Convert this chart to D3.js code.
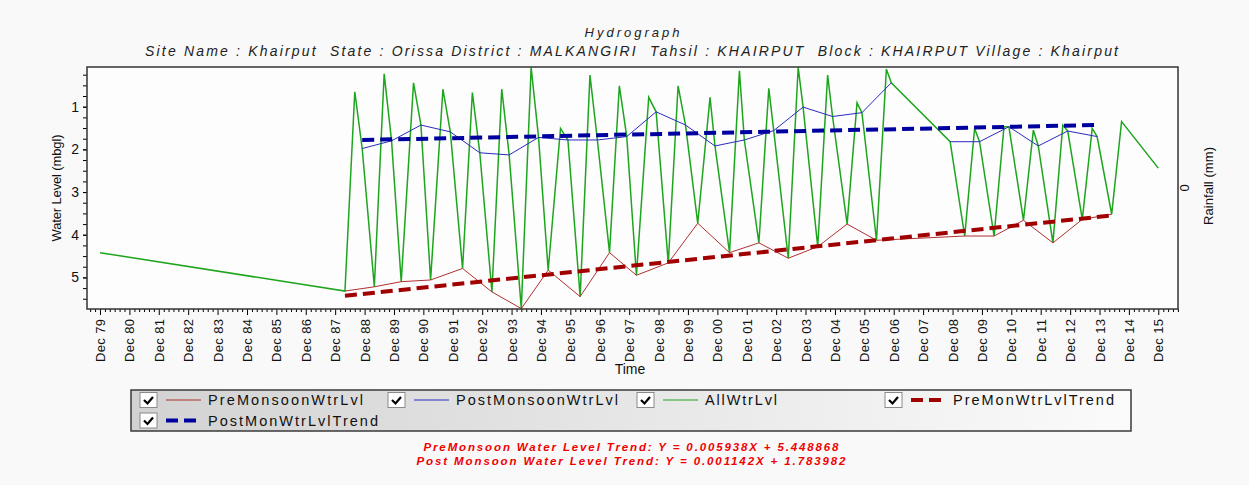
<!DOCTYPE html>
<html>
<head>
<meta charset="utf-8">
<script src="https://cdn.jsdelivr.net/npm/d3@7"></script>
<style>
  body { margin: 0; background: #f9f9f9; }
  text { font-family: "Liberation Sans", Arial, sans-serif; }
</style>
</head>
<body>
<div class="container"></div>
<script>

var allDates = ['1979-12','1988-04','1988-08','1988-11','1989-04','1989-08','1989-11','1990-03','1990-08','1990-11',
                '1991-03','1991-08','1991-11','1992-04','1992-08','1992-11','1993-04','1993-08','1993-11',
                '1994-04','1994-08','1994-11','1995-03','1995-08','1995-11','1996-04','1996-08','1996-11',
                '1997-04','1997-08','1997-11','1998-03','1998-08','1998-11','1999-04','1999-08','1999-11',
                '2000-04','2000-09','2000-11','2001-05','2001-09','2001-11','2002-05','2002-09','2002-11',
                '2003-05','2003-09','2003-11','2004-05','2004-09','2004-11','2005-05','2005-09','2005-11',
                '2006-05','2006-09','2006-11','2008-11','2009-05','2009-09','2009-11','2010-05','2010-09','2010-11',
                '2011-05','2011-09','2011-11','2012-05','2012-09','2012-11','2013-05','2013-09','2013-11',
                '2014-05','2014-09','2015-12'];
var allVals = [4.42,5.32,0.65,1.98,5.22,0.23,1.80,5.10,0.44,1.43,
               5.06,0.59,1.59,4.79,0.67,2.08,5.34,0.59,2.13,
               5.73,0.08,1.72,4.83,1.51,1.78,5.45,0.26,1.78,
               4.42,0.51,1.70,4.95,0.78,1.12,4.66,0.51,1.43,
               3.73,0.78,1.92,4.42,0.16,1.78,4.19,0.57,1.56,
               4.55,0.08,1.01,4.28,0.26,1.23,3.75,0.91,1.14,
               4.13,0.12,0.44,1.82,4.03,1.51,1.82,4.03,1.47,1.47,
               3.66,1.55,1.92,4.19,1.43,1.57,3.64,1.51,1.70,
               3.52,1.35,2.44];

var preDates = ['1988-04','1989-04','1990-03','1991-03','1992-04','1993-04','1994-04','1995-03','1996-04',
                '1997-04','1998-03','1999-04','2000-04','2001-05','2002-05','2003-05','2004-05','2005-05',
                '2006-05','2009-05','2010-05','2011-05','2012-05','2013-05','2014-05'];
var preVals = [5.32,5.22,5.10,5.06,4.79,5.34,5.73,4.83,5.45,
               4.42,4.95,4.66,3.73,4.42,4.19,4.55,4.28,3.75,
               4.13,4.03,4.03,3.66,4.19,3.64,3.52];

var postDates = ['1988-11','1989-11','1990-11','1991-11','1992-11','1993-11','1994-11','1995-11','1996-11',
                 '1997-11','1998-11','1999-11','2000-11','2001-11','2002-11','2003-11','2004-11','2005-11',
                 '2006-11','2007-11','2008-11','2009-11','2010-11','2011-11','2012-11','2013-11'];
var postVals = [1.98,1.80,1.43,1.59,2.08,2.13,1.72,1.78,1.78,
                1.70,1.12,1.43,1.92,1.78,1.56,1.01,1.23,1.14,
                0.44,null,1.82,1.82,1.47,1.92,1.57,1.70];

var preTrendDates = ['1988-04','2014-05'];
var preTrendVals = [5.43,3.55];
var postTrendDates = ['1988-11','2013-11'];
var postTrendVals = [1.78,1.43];

var yTickVals = [1,2,3,4,5];
var seriesNames = ['PreMonsoonWtrLvl','PostMonsoonWtrLvl','AllWtrLvl','PreMonWtrLvlTrend','PostMonWtrLvlTrend'];

var titleText = 'Hydrograph';
var subTitleText = 'Site Name : Khairput  State : Orissa District : MALKANGIRI  Tahsil : KHAIRPUT  Block : KHAIRPUT Village : Khairput';
var eqTexts = ['PreMonsoon Water Level Trend: Y = 0.005938X + 5.448868',
               'Post Monsoon Water Level Trend: Y = 0.001142X + 1.783982'];

// ---- setup ----
var parseMonth = d3.timeParse('%Y-%m');
function pairs(dates, vals) {
    return dates.map(function(d, i) { return {date: parseMonth(d), v: vals[i]}; });
}

var svgContainer = d3.select('.container')
    .append('svg')
        .attr('width', 1249)
        .attr('height', 485);

var plot = {left: 87, right: 1178, top: 67, bottom: 309};

var x = d3.scaleTime()
    .domain([new Date(1979, 5, 23), new Date(2016, 7, 2)])
    .range([plot.left, plot.right]);

var y = d3.scaleLinear()
    .domain([0.07, 5.74])
    .range([plot.top, plot.bottom]);

svgContainer.append('rect')
    .attr('x', plot.left).attr('y', plot.top)
    .attr('width', plot.right - plot.left).attr('height', plot.bottom - plot.top)
    .style('fill', '#fdfdfd');

svgContainer.append('clipPath').attr('id', 'clip')
    .append('rect')
        .attr('x', plot.left).attr('y', plot.top - 1)
        .attr('width', plot.right - plot.left).attr('height', plot.bottom - plot.top + 2);

// titles
svgContainer.append('text')
    .attr('x', 632).attr('y', 37)
    .attr('text-anchor', 'middle')
    .attr('textLength', 95).attr('lengthAdjust', 'spacing')
    .style('font-size', '13px').style('font-style', 'italic').style('fill', '#222')
    .text(titleText);

svgContainer.append('text')
    .attr('x', 631.5).attr('y', 56)
    .attr('text-anchor', 'middle')
    .attr('textLength', 973).attr('lengthAdjust', 'spacing')
    .style('font-size', '14px').style('font-style', 'italic').style('fill', '#222')
    .style('white-space', 'pre')
    .text(subTitleText);

// x axis
var months = d3.timeMonths(x.domain()[0], x.domain()[1]);
var majorTicks = months.filter(function(d) { return d.getMonth() === 11; });
var minorTicks = months.filter(function(d) { return d.getMonth() % 2 === 1 && d.getMonth() !== 11; });

svgContainer.append('g')
    .attr('transform', 'translate(0,' + plot.bottom + ')')
    .call(d3.axisBottom(x).tickValues(minorTicks).tickSize(3).tickFormat(''))
    .call(function(g) { g.select('.domain').remove(); });

var xAxis = svgContainer.append('g')
    .attr('transform', 'translate(0,' + plot.bottom + ')')
    .call(d3.axisBottom(x).tickValues(majorTicks).tickSize(6).tickFormat(d3.timeFormat('Dec %y')));
xAxis.select('.domain').remove();
xAxis.selectAll('text')
    .attr('transform', 'rotate(-90)')
    .attr('x', -10).attr('y', 0).attr('dy', '0.35em')
    .attr('text-anchor', 'end')
    .attr('textLength', 43).attr('lengthAdjust', 'spacing')
    .style('font-size', '13px').style('fill', '#111');

svgContainer.append('text')
    .attr('x', 630).attr('y', 374)
    .attr('text-anchor', 'middle')
    .style('font-size', '14px').style('fill', '#111')
    .text('Time');

// y axis
svgContainer.append('g')
    .attr('transform', 'translate(' + plot.left + ',0)')
    .call(d3.axisLeft(y).tickValues(d3.range(0.25, 5.74, 0.25)).tickSize(4).tickFormat(''))
    .call(function(g) { g.select('.domain').remove(); });

var yAxis = svgContainer.append('g')
    .attr('transform', 'translate(' + plot.left + ',0)')
    .call(d3.axisLeft(y).tickValues(yTickVals).tickSize(4).tickPadding(4).tickFormat(d3.format('d')));
yAxis.select('.domain').remove();
yAxis.selectAll('text').style('font-size', '14px').style('fill', '#111');

svgContainer.append('text')
    .attr('transform', 'translate(61,188) rotate(-90)')
    .attr('text-anchor', 'middle')
    .attr('textLength', 107).attr('lengthAdjust', 'spacing')
    .style('font-size', '13px').style('fill', '#111')
    .text('Water Level (mbgl)');

// right axis (rainfall, empty)
svgContainer.append('text')
    .attr('transform', 'translate(1189,188) rotate(-90)')
    .attr('text-anchor', 'middle')
    .style('font-size', '13px').style('fill', '#111')
    .text('0');

svgContainer.append('text')
    .attr('transform', 'translate(1213,186) rotate(-90)')
    .attr('text-anchor', 'middle')
    .attr('textLength', 78).attr('lengthAdjust', 'spacing')
    .style('font-size', '13px').style('fill', '#111')
    .text('Rainfall (mm)');

// series
var line = d3.line()
    .defined(function(d) { return d.v != null; })
    .x(function(d) { return x(d.date); })
    .y(function(d) { return y(d.v); });

var lines = svgContainer.append('g').attr('clip-path', 'url(#clip)');

lines.append('path')
    .datum(pairs(allDates, allVals))
    .attr('d', line)
    .style('fill', 'none').style('stroke', '#1ea51e').style('stroke-width', 1.5);

lines.append('path')
    .datum(pairs(preDates, preVals))
    .attr('d', line)
    .style('fill', 'none').style('stroke', '#b03030').style('stroke-width', 1);

lines.append('path')
    .datum(pairs(postDates, postVals))
    .attr('d', line)
    .style('fill', 'none').style('stroke', '#2a2ac0').style('stroke-width', 1);

lines.append('path')
    .datum(pairs(preTrendDates, preTrendVals))
    .attr('d', line)
    .style('fill', 'none').style('stroke', '#a00000').style('stroke-width', 4)
    .style('stroke-dasharray', '12,6');

lines.append('path')
    .datum(pairs(postTrendDates, postTrendVals))
    .attr('d', line)
    .style('fill', 'none').style('stroke', '#0000a0').style('stroke-width', 4)
    .style('stroke-dasharray', '12,6');

// plot frame
svgContainer.append('rect')
    .attr('x', plot.left).attr('y', plot.top)
    .attr('width', plot.right - plot.left).attr('height', plot.bottom - plot.top)
    .style('fill', 'none').style('stroke', '#333').style('stroke-width', 1.5);

// legend
var grad = svgContainer.append('defs').append('linearGradient').attr('id', 'legGrad');
grad.append('stop').attr('offset', '0%').attr('stop-color', '#d2d2d2');
grad.append('stop').attr('offset', '100%').attr('stop-color', '#fbfbfb');

svgContainer.append('rect')
    .attr('x', 131).attr('y', 390).attr('width', 1000).attr('height', 41)
    .style('fill', 'url(#legGrad)').style('stroke', '#3a3a3a').style('stroke-width', 1.5);

var legColors = ['#b03030', '#2a2ac0', '#1ea51e', '#a00000', '#0000a0'];
var legDashed = [false, false, false, true, true];
var legBoxX = [140, 388, 637, 885, 140];
var legRowY = [400, 400, 400, 400, 420.5];
var legTextLen = [155, 162, 72, 161, 170];

seriesNames.forEach(function(name, i) {
    var bx = legBoxX[i], cy = legRowY[i];
    var g = svgContainer.append('g');
    g.append('rect')
        .attr('x', bx).attr('y', cy - 7.5).attr('width', 17).attr('height', 15)
        .style('fill', '#fff').style('stroke', '#8a8a8a').style('stroke-width', 1);
    g.append('path')
        .attr('d', 'M' + (bx + 4) + ',' + (cy) + ' L' + (bx + 7.5) + ',' + (cy + 3.5) + ' L' + (bx + 13) + ',' + (cy - 3))
        .style('fill', 'none').style('stroke', '#000').style('stroke-width', 2.2);
    if (legDashed[i]) {
        g.append('line')
            .attr('x1', bx + 26).attr('x2', bx + 58).attr('y1', cy).attr('y2', cy)
            .style('stroke', legColors[i]).style('stroke-width', 4).style('stroke-dasharray', '12,6');
    } else {
        g.append('line')
            .attr('x1', bx + 26).attr('x2', bx + 61).attr('y1', cy).attr('y2', cy)
            .style('stroke', legColors[i]).style('stroke-width', 1);
    }
    g.append('text')
        .attr('x', bx + 68).attr('y', cy).attr('dy', '0.35em')
        .attr('textLength', legTextLen[i]).attr('lengthAdjust', 'spacing')
        .style('font-size', '14.5px').style('fill', '#111')
        .text(name);
});

// trend equations
var eqLen = [415, 429];
eqTexts.forEach(function(t, i) {
    svgContainer.append('text')
        .attr('x', 631).attr('y', 450.5 + i * 14.5)
        .attr('text-anchor', 'middle')
        .attr('textLength', eqLen[i]).attr('lengthAdjust', 'spacing')
        .style('font-size', '11.5px').style('font-style', 'italic').style('font-weight', 'bold')
        .style('fill', '#f00000')
        .text(t);
});

</script>
</body>
</html>
